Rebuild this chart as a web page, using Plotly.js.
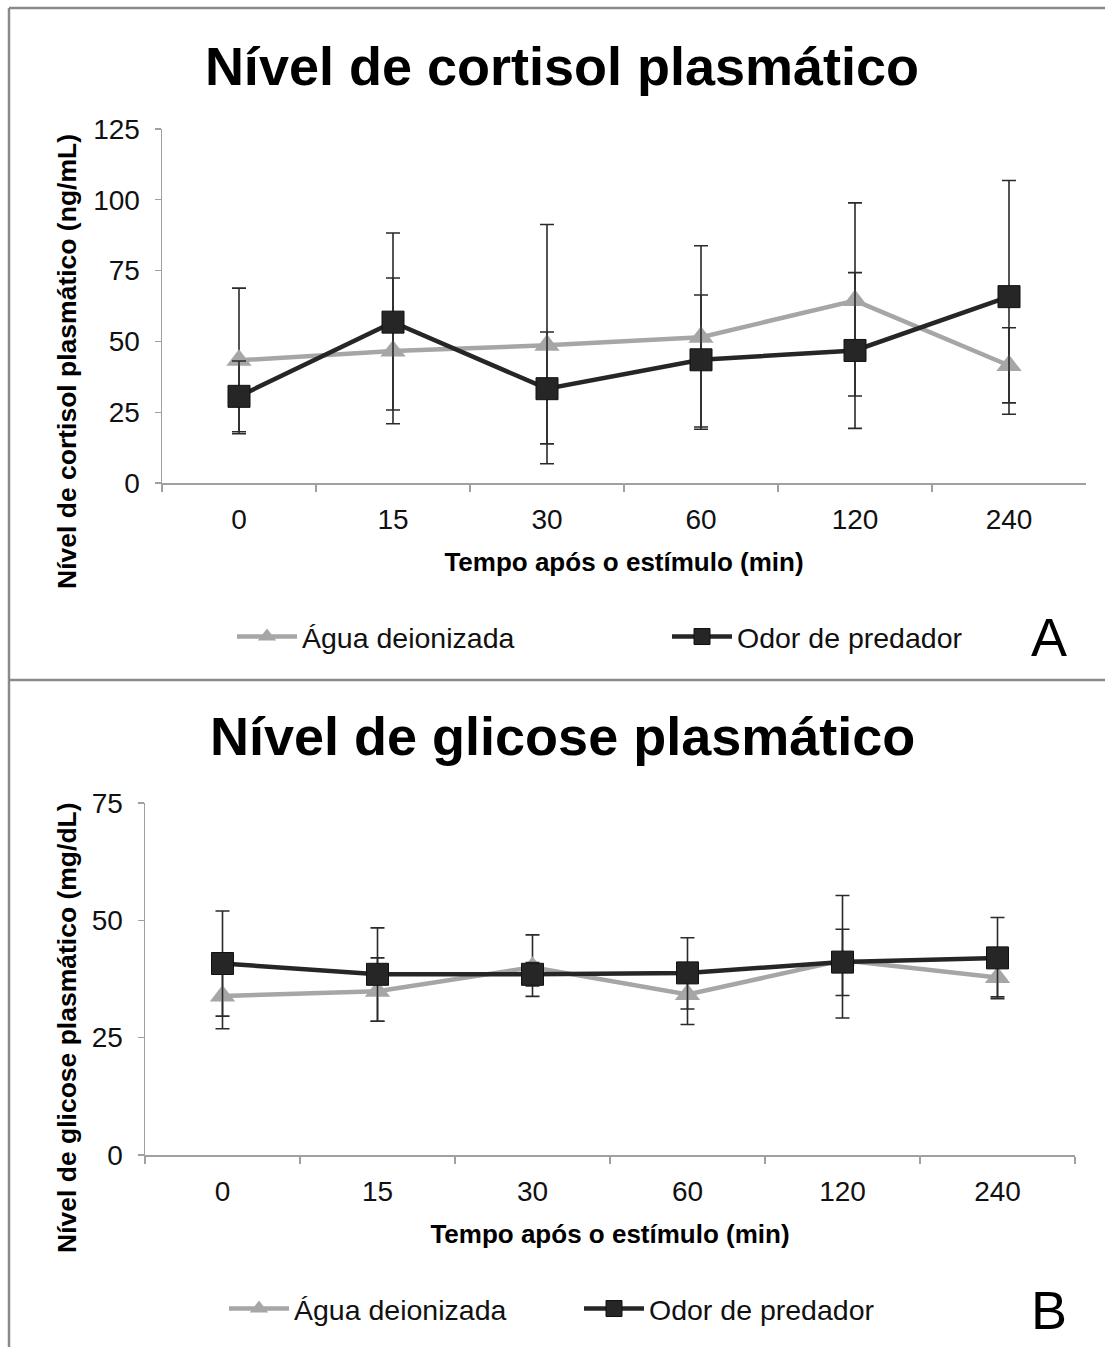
<!DOCTYPE html>
<html>
<head>
<meta charset="utf-8">
<script src="https://cdn.plot.ly/plotly-3.0.1.min.js"></script>
<style>
  html, body { margin: 0; padding: 0; background: #ffffff; }
  #chart { width: 1105px; height: 1347px; }
</style>
</head>
<body>
<div id="chart"></div>
<script>
// ---------- data ----------
const categories = ['0', '15', '30', '60', '120', '240'];

const seriesNames = ['Água deionizada', 'Odor de predador'];

// Panel A: plasma cortisol (ng/mL)
const cortisolWater = [43.3, 46.6, 48.6, 51.5, 64.4, 41.5];
const cortisolWaterErrPlus = [25.5, 25.8, 42.7, 32.3, 34.5, 13.3];
const cortisolWaterErrMinus = [25.9, 25.7, 41.8, 31.7, 33.7, 13.2];

const cortisolPredator = [30.6, 56.8, 33.3, 43.5, 46.8, 65.8];
const cortisolPredatorErrPlus = [12.5, 31.5, 20.0, 22.9, 27.5, 41.0];
const cortisolPredatorErrMinus = [12.5, 31.0, 19.5, 24.5, 27.5, 41.5];

// Panel B: plasma glucose (mg/dL)
const glucoseWater = [33.9, 34.9, 40.0, 34.2, 41.5, 37.8];
const glucoseWaterErrPlus = [7.0, 7.1, 6.9, 6.4, 6.6, 4.3];
const glucoseWaterErrMinus = [7.0, 6.4, 6.2, 6.4, 7.5, 4.5];

const glucosePredator = [40.8, 38.5, 38.5, 38.8, 41.1, 42.0];
const glucosePredatorErrPlus = [11.2, 9.9, 2.5, 7.5, 14.2, 8.6];
const glucosePredatorErrMinus = [11.2, 10.0, 2.5, 7.7, 11.9, 8.3];

const cortisolTicks = [0, 25, 50, 75, 100, 125];
const glucoseTicks = [0, 25, 50, 75];

// ---------- helpers ----------
const W = 1105, H = 1347;
const px = x => x / W;
const py = y => 1 - y / H;
const FONT = 'Liberation Sans, Arial, sans-serif';

const grayColor = '#a6a6a6';
const darkColor = '#262626';
const errColor = '#2a2a2a';

function makeTrace(y, plus, minus, name, isWater, xa, ya, legendId) {
  return {
    type: 'scatter',
    mode: 'lines+markers',
    x: categories,
    y: y,
    name: name,
    xaxis: xa,
    yaxis: ya,
    legend: legendId,
    line: { color: isWater ? grayColor : darkColor, width: 4.5 },
    marker: isWater
      ? { symbol: 'triangle-up', size: 22, color: grayColor, line: { width: 0 } }
      : { symbol: 'square', size: 22, color: darkColor, line: { width: 1, color: '#111' } },
    error_y: {
      type: 'data', symmetric: false,
      array: plus, arrayminus: minus,
      color: errColor, thickness: 1.6, width: 7
    },
    hoverinfo: 'skip'
  };
}

const data = [
  makeTrace(cortisolWater, cortisolWaterErrPlus, cortisolWaterErrMinus, seriesNames[0], true, 'x', 'y', 'legend'),
  makeTrace(cortisolPredator, cortisolPredatorErrPlus, cortisolPredatorErrMinus, seriesNames[1], false, 'x', 'y', 'legend'),
  makeTrace(glucoseWater, glucoseWaterErrPlus, glucoseWaterErrMinus, seriesNames[0], true, 'x2', 'y2', 'legend2'),
  makeTrace(glucosePredator, glucosePredatorErrPlus, glucosePredatorErrMinus, seriesNames[1], false, 'x2', 'y2', 'legend2')
];

const axisLine = '#a0a0a0';
const tickFont = { family: FONT, size: 28, color: '#111' };
const axTitleFont = { family: FONT, size: 26, color: '#000', weight: 700 };

function xAxis(d0, d1, anchor, standoff) {
  return {
    domain: [px(d0), px(d1)],
    anchor: anchor,
    type: 'category',
    categoryorder: 'array',
    categoryarray: categories,
    range: [-0.5, categories.length - 0.5],
    tickson: 'boundaries',
    ticks: 'outside', ticklen: 7, tickwidth: 1.3, tickcolor: axisLine,
    showline: true, linecolor: axisLine, linewidth: 1.5,
    showgrid: false, zeroline: false,
    tickfont: tickFont,
    ticklabelstandoff: 11,
    title: { text: 'Tempo após o estímulo (min)', font: axTitleFont, standoff: standoff },
    fixedrange: true
  };
}
function yAxis(d0, d1, anchor, range, ticks) {
  return {
    domain: [py(d1), py(d0)],
    anchor: anchor,
    range: range,
    tickvals: ticks,
    ticktext: ticks.map(String),
    ticks: 'outside', ticklen: 6, tickwidth: 1.3, tickcolor: axisLine,
    showline: true, linecolor: axisLine, linewidth: 1.5,
    showgrid: false, zeroline: false,
    tickfont: tickFont,
    ticklabelstandoff: 9,
    fixedrange: true
  };
}

const frame = { color: '#8a8a8a', width: 2.5 };

const layout = {
  width: W, height: H,
  margin: { l: 0, r: 0, t: 0, b: 0 },
  paper_bgcolor: '#ffffff',
  plot_bgcolor: '#ffffff',
  font: { family: FONT, color: '#000' },
  title: {
    text: 'Nível de cortisol plasmático',
    font: { family: FONT, size: 54, weight: 700, color: '#000' },
    x: px(562), xanchor: 'center', xref: 'paper',
    y: py(66), yanchor: 'middle', yref: 'paper'
  },
  xaxis: xAxis(162, 1086, 'y', 18),
  yaxis: yAxis(129, 483, 'x', [0, 125], cortisolTicks),
  xaxis2: xAxis(145, 1075, 'y2', 18),
  yaxis2: yAxis(803, 1155, 'x2', [0, 75], glucoseTicks),
  showlegend: true,
  legend: {
    orientation: 'h',
    x: px(232), xanchor: 'left',
    y: py(637), yanchor: 'middle',
    font: { family: FONT, size: 28.5, color: '#111' },
    itemwidth: 60,
    entrywidth: 360, entrywidthmode: 'pixels',
    bgcolor: 'rgba(0,0,0,0)',
    itemclick: false, itemdoubleclick: false
  },
  legend2: {
    orientation: 'h',
    x: px(224), xanchor: 'left',
    y: py(1309), yanchor: 'middle',
    font: { family: FONT, size: 28.5, color: '#111' },
    itemwidth: 60,
    entrywidth: 280, entrywidthmode: 'pixels',
    bgcolor: 'rgba(0,0,0,0)',
    itemclick: false, itemdoubleclick: false
  },
  annotations: [
    {
      text: 'Nível de glicose plasmático', xref: 'paper', yref: 'paper',
      x: px(562), y: py(736), xanchor: 'center', yanchor: 'middle', showarrow: false,
      font: { family: FONT, size: 54, weight: 700, color: '#000' }
    },
    {
      text: 'Nível de cortisol plasmático (ng/mL)', xref: 'paper', yref: 'paper',
      x: px(67), y: py(362), xanchor: 'center', yanchor: 'middle', showarrow: false,
      textangle: -90,
      font: { family: FONT, size: 26.5, weight: 700, color: '#000' }
    },
    {
      text: 'Nível de glicose plasmático (mg/dL)', xref: 'paper', yref: 'paper',
      x: px(67), y: py(1028), xanchor: 'center', yanchor: 'middle', showarrow: false,
      textangle: -90,
      font: { family: FONT, size: 26.5, weight: 700, color: '#000' }
    },
    {
      text: 'A', xref: 'paper', yref: 'paper',
      x: px(1049), y: py(637), xanchor: 'center', yanchor: 'middle', showarrow: false,
      font: { family: FONT, size: 54, color: '#000' }
    },
    {
      text: 'B', xref: 'paper', yref: 'paper',
      x: px(1049), y: py(1310), xanchor: 'center', yanchor: 'middle', showarrow: false,
      font: { family: FONT, size: 54, color: '#000' }
    }
  ],
  shapes: [
    { type: 'line', xref: 'paper', yref: 'paper', x0: px(9), x1: 1, y0: py(8), y1: py(8), line: frame },
    { type: 'line', xref: 'paper', yref: 'paper', x0: px(9), x1: px(9), y0: py(8), y1: 0, line: frame },
    { type: 'line', xref: 'paper', yref: 'paper', x0: px(9), x1: 1, y0: py(680), y1: py(680), line: frame }
  ]
};

Plotly.newPlot('chart', data, layout, { staticPlot: true, displayModeBar: false });
</script>
</body>
</html>
